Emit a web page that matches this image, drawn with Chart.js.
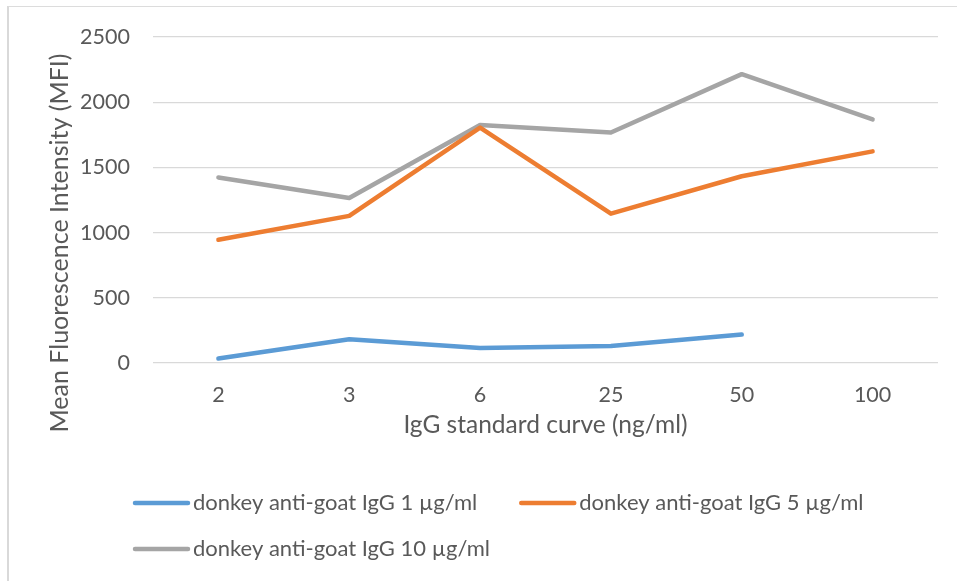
<!DOCTYPE html>
<html>
<head>
<meta charset="utf-8">
<script src="https://cdn.jsdelivr.net/npm/chart.js@4.4.1/dist/chart.umd.min.js"></script>
<style>
  html, body { margin: 0; padding: 0; background: #fff; overflow: hidden; }
  #wrap { position: relative; width: 957px; height: 581px; }
  #frame { position: absolute; left: 7px; top: 6px; width: 1000px; height: 1000px;
           border-left: 2px solid #d9d9d9; border-top: 1.5px solid #dcdcdc; }
  canvas { position: absolute; left: 0; top: 0; }
</style>
</head>
<body>
<div id="wrap">
  <div id="frame"></div>
  <canvas id="mfiChart" width="957" height="581"></canvas>
</div>
<script>
// concentrations of the IgG standard curve (ng/ml)
const categories = ["2", "3", "6", "25", "50", "100"];

// MFI values
const igg1 = [34, 182, 115, 131, 218, null];
const igg5 = [945, 1128, 1805, 1145, 1432, 1623];
const igg10 = [1423, 1265, 1825, 1768, 2215, 1868];

const seriesNames = [
    "donkey anti-goat IgG 1 µg/ml",
    "donkey anti-goat IgG 5 µg/ml",
    "donkey anti-goat IgG 10 µg/ml",
];

const yTicks = [0, 500, 1000, 1500, 2000, 2500];
const yTitle = "Mean Fluorescence Intensity (MFI)";

const textColor = "#595959";
const fontFamily = "Lato, 'Liberation Sans', sans-serif";

// excel style extras: y title centred lower than the plot, legend rows starting on the left
const excelLayout = {
    id: "excelLayout",
    afterDraw(chart) {
        const ctx = chart.ctx;
        ctx.save();

        // y axis title
        ctx.save();
        ctx.translate(60, 243);
        ctx.rotate(-Math.PI / 2);
        ctx.font = "25px " + fontFamily;
        ctx.fillStyle = textColor;
        ctx.textAlign = "center";
        ctx.textBaseline = "middle";
        ctx.fillText(yTitle, 0, 0);
        ctx.restore();

        // legend: short line, text right after it
        const startX = 133;
        const rowY = [503, 549];
        const lineLen = 57;
        let x = startX;
        let row = 0;
        ctx.font = "22px " + fontFamily;
        ctx.textBaseline = "middle";
        ctx.textAlign = "left";
        chart.data.datasets.forEach(function (ds) {
            const w = lineLen + 3 + ctx.measureText(ds.label).width;
            if (x > startX && x + w > 900) {
                row++;
                x = startX;
            }
            const y = rowY[row];
            ctx.strokeStyle = ds.borderColor;
            ctx.lineWidth = 4.5;
            ctx.lineCap = "round";
            ctx.beginPath();
            ctx.moveTo(x + 2, y);
            ctx.lineTo(x + lineLen - 2, y);
            ctx.stroke();
            ctx.fillStyle = textColor;
            ctx.fillText(ds.label, x + lineLen + 3, y);
            x += w + 42;
        });
        ctx.restore();
    },
};

const ctx = document.getElementById("mfiChart").getContext("2d");
const mfiChart = new Chart(ctx, {
    type: "line",
    data: {
        labels: categories,
        datasets: [
            { label: seriesNames[0], data: igg1, borderColor: "#5b9bd5" },
            { label: seriesNames[1], data: igg5, borderColor: "#ed7d31" },
            { label: seriesNames[2], data: igg10, borderColor: "#a5a5a5" },
        ],
    },
    options: {
        responsive: false,
        animation: false,
        layout: { padding: { top: 37, right: 19, bottom: 128, left: 0 } },
        elements: {
            line: { borderWidth: 4.5, borderCapStyle: "round", borderJoinStyle: "round", tension: 0 },
            point: { radius: 0, hoverRadius: 0 },
        },
        plugins: {
            legend: { display: false },
            tooltip: { enabled: false },
        },
        scales: {
            x: {
                offset: true,
                grid: { display: false, drawTicks: false },
                border: { display: false },
                ticks: { color: textColor, font: { family: fontFamily, size: 21.5 }, padding: 19, maxRotation: 0 },
                title: {
                    display: true,
                    text: "IgG standard curve (ng/ml)",
                    color: textColor,
                    font: { family: fontFamily, size: 24.5 },
                    padding: { top: 0, bottom: 13 },
                },
                afterFit(scale) { scale.height = 90; },
            },
            y: {
                min: 0,
                max: 2500,
                afterBuildTicks(scale) { scale.ticks = yTicks.map(function (v) { return { value: v }; }); },
                grid: { color: "#d9d9d9", lineWidth: 1.3, drawTicks: false },
                border: { display: false },
                ticks: {
                    color: textColor,
                    font: { family: fontFamily, size: 21.5 },
                    padding: 23,
                    callback: function (value) { return String(value); },
                },
                afterFit(scale) { scale.width = 153; },
            },
        },
    },
    plugins: [excelLayout],
});
</script>
</body>
</html>
